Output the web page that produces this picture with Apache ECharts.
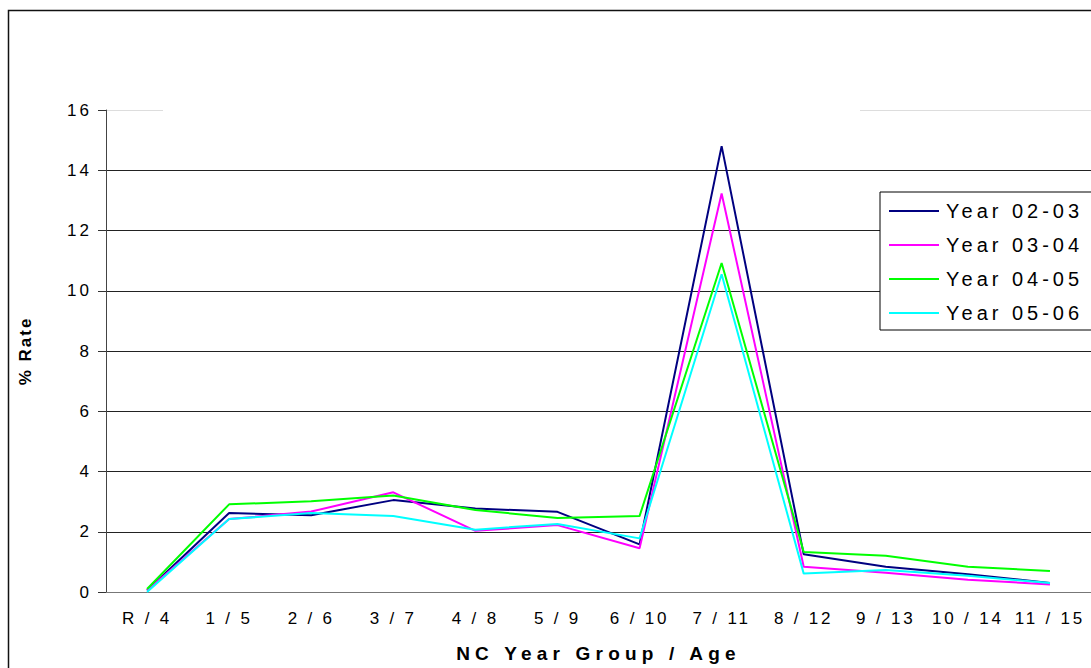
<!DOCTYPE html>
<html>
<head>
<meta charset="utf-8">
<script src="https://cdn.jsdelivr.net/npm/echarts@6/dist/echarts.min.js"></script>
<style>
  html, body { margin: 0; padding: 0; background: #fff; }
  #chartLineBox { width: 1091px; height: 668px; }
</style>
</head>
<body>
<div id="chartLineBox"></div>
<script>
// categories (x axis)
var categories = ['R / 4', '1 / 5', '2 / 6', '3 / 7', '4 / 8', '5 / 9', '6 / 10', '7 / 11', '8 / 12', '9 / 13', '10 / 14', '11 / 15'];
// series values, % rate
var year0203 = [0.05, 2.62, 2.55, 3.05, 2.77, 2.66, 1.58, 14.8, 1.25, 0.84, 0.59, 0.30];
var year0304 = [0.05, 2.42, 2.67, 3.31, 2.03, 2.22, 1.45, 13.23, 0.84, 0.64, 0.41, 0.25];
var year0405 = [0.10, 2.91, 3.01, 3.20, 2.72, 2.46, 2.52, 10.92, 1.33, 1.20, 0.84, 0.70];
var year0506 = [0.00, 2.42, 2.62, 2.52, 2.07, 2.26, 1.78, 10.55, 0.61, 0.73, 0.54, 0.30];
var nameData = ['Year 02-03', 'Year 03-04', 'Year 04-05', 'Year 05-06'];
var xName = 'NC Year Group / Age';
var yName = '% Rate';

var font = "'Liberation Sans', Arial, sans-serif";
var chartLine = echarts.init(document.getElementById('chartLineBox'), null, { renderer: 'svg' });

function mkSeries(name, data, color) {
  return {
    name: name,
    type: 'line',
    data: data,
    symbol: 'none',
    lineStyle: { color: color, width: 2 },
    itemStyle: { color: color }
  };
}

var option = {
  animation: false,
  backgroundColor: '#fff',
  textStyle: { fontFamily: font },
  grid: { left: 106, top: 110, width: 991, bottom: 75 },
  legend: {
    data: nameData,
    orient: 'vertical',
    left: 880,
    top: 192,
    padding: [9, 120, 7, 9],
    itemWidth: 50,
    itemHeight: 2,
    itemGap: 14,
    icon: 'rect',
    borderColor: '#000',
    borderWidth: 1,
    backgroundColor: '#fff',
    textStyle: { fontSize: 20, color: '#000', fontFamily: font, padding: [0, 0, 0, 2] }
  },
  xAxis: {
    type: 'category',
    data: categories,
    name: xName,
    nameLocation: 'middle',
    nameGap: 52,
    nameTextStyle: { fontSize: 19, fontWeight: 'bold', color: '#000', fontFamily: font },
    axisLine: { lineStyle: { color: '#777', width: 1 } },
    axisTick: { length: 6, lineStyle: { color: '#333' } },
    axisLabel: { fontSize: 17, color: '#000', margin: 18, interval: 0, fontFamily: font }
  },
  yAxis: {
    type: 'value',
    min: 0,
    max: 16,
    interval: 2,
    name: yName,
    nameLocation: 'middle',
    nameGap: 72,
    nameTextStyle: { fontSize: 17, fontWeight: 'bold', color: '#000', fontFamily: font },
    axisLine: { show: true, lineStyle: { color: '#444', width: 1 } },
    axisTick: { show: true, length: 8, lineStyle: { color: '#333' } },
    axisLabel: { fontSize: 17, color: '#000', margin: 14, fontFamily: font },
    splitLine: {
      lineStyle: {
        color: ['#222', '#222', '#222', '#222', '#222', '#222', '#222', '#222', '#ddd'],
        width: 1
      }
    }
  },
  graphic: [
    {
      type: 'rect', z: 100, silent: true,
      shape: { x: 163, y: 104, width: 697, height: 11 },
      style: { fill: '#fff' }
    },
    {
      type: 'rect', z: 100, silent: true,
      shape: { x: 8.5, y: 10.5, width: 1200, height: 800 },
      style: { fill: 'none', stroke: '#111', lineWidth: 1.5 }
    }
  ],
  series: [
    mkSeries(nameData[0], year0203, '#000080'),
    mkSeries(nameData[1], year0304, '#ff00ff'),
    mkSeries(nameData[2], year0405, '#00ff00'),
    mkSeries(nameData[3], year0506, '#00ffff')
  ]
};
chartLine.setOption(option);

// spaced lettering like the original export
function spaceText() {
  var texts = document.querySelectorAll('#chartLineBox text');
  texts.forEach(function (t) {
    var s = t.textContent;
    var ls = 3;
    if (nameData.indexOf(s) >= 0) ls = 4;
    else if (s === xName) ls = 5.2;
    else if (s === yName) ls = 2;
    else if (categories.indexOf(s) >= 0) ls = 2.8;
    t.setAttribute('letter-spacing', ls + 'px');
  });
}
chartLine.on('finished', spaceText);
setTimeout(spaceText, 50);
</script>
</body>
</html>
